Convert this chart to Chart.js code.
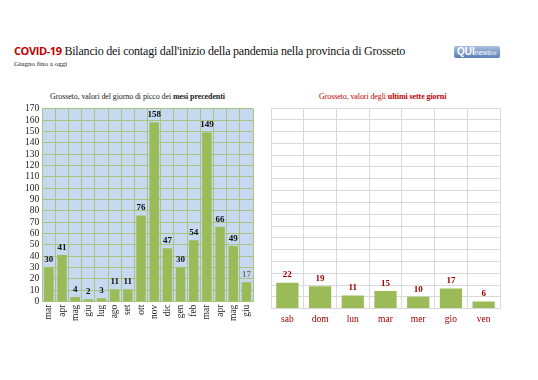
<!DOCTYPE html>
<html>
<head>
<meta charset="utf-8">
<script src="https://cdn.jsdelivr.net/npm/chart.js@4"></script>
<style>
  body { margin: 0; background: #fff; width: 538px; height: 380px; position: relative; overflow: hidden; font-family: "Liberation Serif", "DejaVu Serif", serif; }
  .abs { position: absolute; white-space: nowrap; }
  #title { left: 14px; top: 43px; font-size: 12px; color: #111; letter-spacing: -0.2px; }
  #title b { font-family: "Open Sans", "Liberation Sans", sans-serif; color: #c00000; font-weight: 700; font-size: 11px; letter-spacing: -0.4px; }
  #sub { left: 14px; top: 60px; font-size: 7px; color: #222; }
  #logo { left: 454px; top: 46px; width: 46px; height: 12px; background: linear-gradient(#a9c0e0, #5c7fb5); border-radius: 2px; font-family: "Liberation Sans", sans-serif; color: #fff; font-size: 7px; line-height: 12px; padding-left: 3px; box-sizing: border-box; }
  #logo b { font-size: 10px; }
  #t1 { left: 50px; top: 92px; font-size: 8px; color: #222; letter-spacing: -0.1px; }
  #t2 { left: 319px; top: 92px; font-size: 8px; color: #c00000; letter-spacing: -0.1px; }
  canvas { position: absolute; }
</style>
</head>
<body>
<div id="title" class="abs"><b>COVID-19</b> Bilancio dei contagi dall'inizio della pandemia nella provincia di Grosseto</div>
<div id="sub" class="abs">Giugno fino a oggi</div>
<div id="logo" class="abs"><b>QUI</b>news<span style="font-size:5px">ml</span></div>
<div id="t1" class="abs">Grosseto, valori del giorno di picco dei <b>mesi precedenti</b></div>
<div id="t2" class="abs">Grosseto, valori degli <b>ultimi sette giorni</b></div>
<canvas id="left" style="left:0;top:100px;width:265px;height:230px"></canvas>
<canvas id="right" style="left:262px;top:100px;width:260px;height:230px"></canvas>
<script>
const monthLabels = ['mar', 'apr', 'mag', 'giu', 'lug', 'ago', 'set', 'ott', 'nov', 'dic', 'gen', 'feb', 'mar', 'apr', 'mag', 'giu']
const monthPeaks = [30, 41, 4, 2, 3, 11, 11, 76, 158, 47, 30, 54, 149, 66, 49, 17]
const dayLabels = ['sab', 'dom', 'lun', 'mar', 'mer', 'gio', 'ven']
const dayCases = [22, 19, 11, 15, 10, 17, 6]
const yMax = 170
const yStep = 10

const serif = '"Liberation Serif", "DejaVu Serif", serif'

// background of the plot area
const areaFill = {
  id: 'areaFill',
  beforeDraw(chart, args, opts) {
    const a = chart.chartArea
    chart.ctx.save()
    chart.ctx.fillStyle = opts.color
    chart.ctx.fillRect(a.left, a.top, a.right - a.left, a.bottom - a.top)
    chart.ctx.restore()
  }
}

// value printed above each bar
const valueLabels = {
  id: 'valueLabels',
  afterDatasetsDraw(chart, args, opts) {
    const ctx = chart.ctx
    const meta = chart.getDatasetMeta(0)
    const values = chart.data.datasets[0].data
    ctx.save()
    ctx.font = 'bold ' + opts.size + 'px ' + serif
    ctx.textAlign = 'center'
    ctx.textBaseline = 'bottom'
    meta.data.forEach((bar, i) => {
      ctx.fillStyle = (opts.lastColor && i === values.length - 1) ? opts.lastColor : opts.color
      ctx.fillText(values[i], bar.x, bar.y - 3)
    })
    ctx.restore()
  }
}

new Chart(document.getElementById('left'), {
  type: 'bar',
  data: {
    labels: monthLabels,
    datasets: [{ data: monthPeaks, backgroundColor: '#9bbb59', barPercentage: 0.72, categoryPercentage: 1 }]
  },
  options: {
    responsive: false,
    animation: false,
    layout: { padding: { top: 7, right: 12, left: 22, bottom: 6 } },
    plugins: {
      legend: { display: false },
      tooltip: { enabled: false },
      areaFill: { color: '#c6d9f1' },
      valueLabels: { color: '#111', size: 9, lastColor: '#777' }
    },
    scales: {
      y: {
        min: 0, max: yMax,
        ticks: { stepSize: yStep, autoSkip: false, color: '#222', font: { family: serif, size: 9.5 }, padding: 3 },
        grid: { color: '#a9c47f', drawTicks: false },
        border: { color: '#a9c47f' }
      },
      x: {
        ticks: { autoSkip: false, color: '#222', font: { family: serif, size: 9.5 }, minRotation: 90, maxRotation: 90, padding: 3 },
        grid: { color: '#a9c47f', drawTicks: false },
        border: { color: '#a9c47f' }
      }
    }
  },
  plugins: [areaFill, valueLabels]
})

new Chart(document.getElementById('right'), {
  type: 'bar',
  data: {
    labels: dayLabels,
    datasets: [{ data: dayCases, backgroundColor: '#9bbb59', barPercentage: 0.68, categoryPercentage: 1 }]
  },
  options: {
    responsive: false,
    animation: false,
    layout: { padding: { top: 8, right: 22, left: 9, bottom: 0 } },
    plugins: {
      legend: { display: false },
      tooltip: { enabled: false },
      areaFill: { color: '#ffffff' },
      valueLabels: { color: '#a00000', size: 9 }
    },
    scales: {
      y: {
        min: 0, max: yMax,
        ticks: { display: false, stepSize: yStep },
        grid: { color: '#d9d9d9', drawTicks: false },
        border: { display: false }
      },
      x: {
        ticks: { color: '#a00000', font: { family: serif, size: 9.5 }, padding: 5 },
        grid: { color: '#d9d9d9', drawTicks: false },
        border: { color: '#d9d9d9' }
      }
    }
  },
  plugins: [areaFill, valueLabels]
})
</script>
</body>
</html>
